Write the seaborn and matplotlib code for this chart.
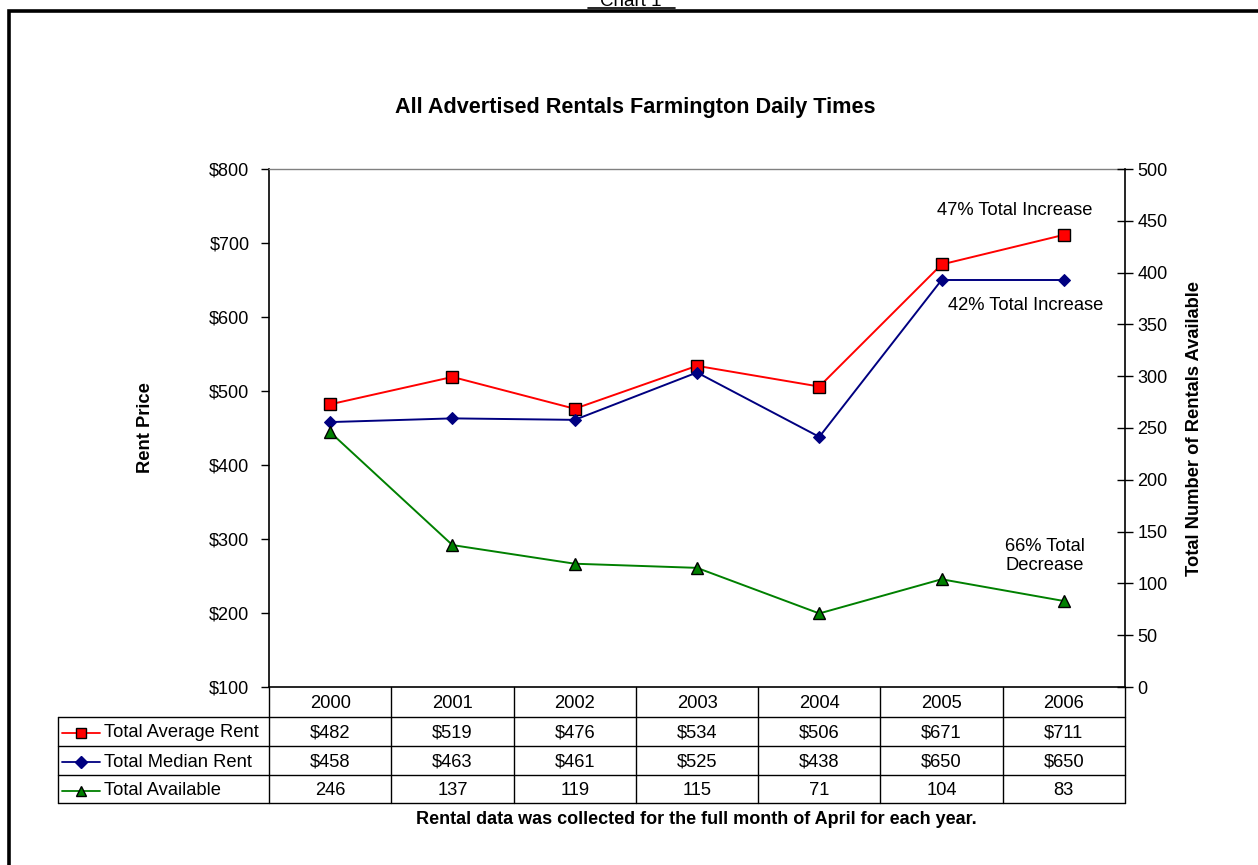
import numpy as np
import pandas as pd
import matplotlib
matplotlib.use("Agg")
import matplotlib.pyplot as plt
import matplotlib.transforms as mtransforms
from matplotlib.lines import Line2D
from matplotlib.patches import Rectangle
import seaborn as sns

# --------------------------------
# Data
# --------------------------------
years = ["2000", "2001", "2002", "2003", "2004", "2005", "2006"]
avg_rent = [482, 519, 476, 534, 506, 671, 711]
median_rent = [458, 463, 461, 525, 438, 650, 650]
available = [246, 137, 119, 115, 71, 104, 83]

series_names = ["Total Average Rent", "Total Median Rent", "Total Available"]
left_ticks = [100, 200, 300, 400, 500, 600, 700, 800]
right_ticks = [0, 50, 100, 150, 200, 250, 300, 350, 400, 450, 500]

df = pd.DataFrame({
    "pos": np.arange(len(years)),
    "year": years,
    "avg": avg_rent,
    "median": median_rent,
    "available": available,
})

# --------------------------------
# Style
# --------------------------------
sns.set_style("white")
plt.rcParams["font.family"] = ["Liberation Sans", "DejaVu Sans"]
plt.rcParams["text.color"] = "black"
plt.rcParams["axes.labelcolor"] = "black"
plt.rcParams["xtick.color"] = "black"
plt.rcParams["ytick.color"] = "black"

FS = 13.2

W, H = 1258, 865
fig = plt.figure(figsize=(W / 100, H / 100), dpi=100)


def fx(px):
    return px / W


def fy(py):
    return 1 - py / H


ax = fig.add_axes([fx(269), fy(687), fx(1125 - 269), (687 - 169) / H])
ax2 = ax.twinx()

red = "#FF0000"
navy = "#000080"
green = "#008000"

sns.lineplot(data=df, x="pos", y="avg", ax=ax, color=red, lw=1.4,
             marker="s", markersize=8, markerfacecolor=red,
             markeredgecolor="black", markeredgewidth=1.0)
sns.lineplot(data=df, x="pos", y="median", ax=ax, color=navy, lw=1.4,
             marker="D", markersize=6.5, markerfacecolor=navy,
             markeredgecolor=navy)
sns.lineplot(data=df, x="pos", y="available", ax=ax2, color=green, lw=1.4,
             marker="^", markersize=8, markerfacecolor=green,
             markeredgecolor="black", markeredgewidth=1.0)

ax.set_xlim(-0.5, len(years) - 0.5)
ax.set_ylim(100, 800)
ax.set_yticks(left_ticks)
ax.set_yticklabels([f"${v}" for v in left_ticks])
ax2.set_ylim(0, 500)
ax2.set_yticks(right_ticks)
ax.set_xticks([])
ax.set_xlabel("")
ax.set_ylabel("Rent Price", fontsize=FS, fontweight="bold")
ax2.set_ylabel("Total Number of Rentals Available", fontsize=FS,
               fontweight="bold")
ax.yaxis.set_label_coords(-0.1345, 0.5)
ax2.yaxis.set_label_coords(1.0713, 0.5)

ax.tick_params(axis="y", which="both", left=True, direction="out", length=6,
               width=1, labelsize=13, pad=8, color="black")
ax2.tick_params(axis="y", which="both", right=True, direction="inout",
                length=12, width=1, labelsize=13, pad=3, color="black")

for a in (ax, ax2):
    for s in a.spines.values():
        s.set_visible(False)
ax.spines["left"].set_visible(True)
ax.spines["left"].set_color("black")
ax.spines["left"].set_linewidth(1.2)
ax2.spines["right"].set_visible(True)
ax2.spines["right"].set_color("black")
ax2.spines["right"].set_linewidth(1.2)
ax.spines["top"].set_visible(True)
ax.spines["top"].set_color("#808080")
ax.spines["top"].set_linewidth(1.0)
ax.spines["bottom"].set_visible(True)
ax.spines["bottom"].set_color("black")
ax.spines["bottom"].set_linewidth(1.2)

# --------------------------------
# Annotations
# --------------------------------
ax.text(5.6, 744, "47% Total Increase", fontsize=FS, ha="center", va="center")
ax.text(5.69, 616, "42% Total Increase", fontsize=FS, ha="center", va="center")
ax.text(5.52, 277, "66% Total\nDecrease", fontsize=FS, ha="left",
        va="center", linespacing=1.15)

# --------------------------------
# Title & page elements
# --------------------------------
fig.text(fx(635), fy(108), "All Advertised Rentals Farmington Daily Times",
         fontsize=15.6, fontweight="bold", ha="center", va="center")
fig.text(fx(631), fy(1), "Chart 1", fontsize=13.5, ha="center", va="center")
fig.add_artist(Line2D([fx(588), fx(675)], [fy(8), fy(8)], color="black", lw=1.2))
fig.add_artist(Rectangle((fx(9), fy(H + 20)), 1.2, fy(11) - fy(H + 20),
                         transform=fig.transFigure, fill=False,
                         edgecolor="black", lw=2.6))

# --------------------------------
# Data table (x in data units, y in axes fraction)
# --------------------------------
tr = mtransforms.blended_transform_factory(ax.transData, ax.transAxes)
axh = 687 - 169
row_edges = [0, -(716.7 - 687) / axh, -(746 - 687) / axh,
             -(775.3 - 687) / axh, -(803.3 - 687) / axh]
x_right = len(years) - 0.5
x_label_left = -0.5 - (269 - 58) / 122.3

line_kw = dict(transform=tr, color="black", lw=1.0, clip_on=False)
# column separators
for i in range(len(years) + 1):
    xe = i - 0.5
    ax.add_artist(Line2D([xe, xe], [row_edges[0], row_edges[-1]], **line_kw))
ax.add_artist(Line2D([x_label_left, x_label_left],
                     [row_edges[1], row_edges[-1]], **line_kw))
# row separators
for k, ye in enumerate(row_edges[1:]):
    ax.add_artist(Line2D([x_label_left, x_right], [ye, ye], **line_kw))

txt_kw = dict(transform=tr, fontsize=FS, ha="center", va="center")
ymid = [(row_edges[k] + row_edges[k + 1]) / 2 - 0.003 for k in range(4)]
for i, yr in enumerate(years):
    ax.text(i, ymid[0], yr, **txt_kw)
    ax.text(i, ymid[1], f"${avg_rent[i]}", **txt_kw)
    ax.text(i, ymid[2], f"${median_rent[i]}", **txt_kw)
    ax.text(i, ymid[3], f"{available[i]}", **txt_kw)

sym_x0 = -0.5 - (269 - 62) / 122.3
sym_x1 = -0.5 - (269 - 100) / 122.3
sym_xm = (sym_x0 + sym_x1) / 2
text_x = -0.5 - (269 - 104) / 122.3
styles = [
    (red, "s", 7.5, red, "black"),
    (navy, "D", 6, navy, navy),
    (green, "^", 7.5, green, "black"),
]
for k, (name, st) in enumerate(zip(series_names, styles)):
    c, m, ms, mfc, mec = st
    yk = ymid[k + 1]
    ax.add_artist(Line2D([sym_x0, sym_x1], [yk, yk], transform=tr, color=c,
                         lw=1.3, clip_on=False))
    ax.add_artist(Line2D([sym_xm], [yk], transform=tr, marker=m, ms=ms,
                         mfc=mfc, mec=mec, mew=1.0, lw=0, clip_on=False))
    ax.text(text_x, yk, name, transform=tr, fontsize=FS, ha="left",
            va="center")

fig.text(fx(696), fy(820),
         "Rental data was collected for the full month of April for each year.",
         fontsize=13, fontweight="bold", ha="center", va="center")

fig.savefig("out.png", dpi=100)
